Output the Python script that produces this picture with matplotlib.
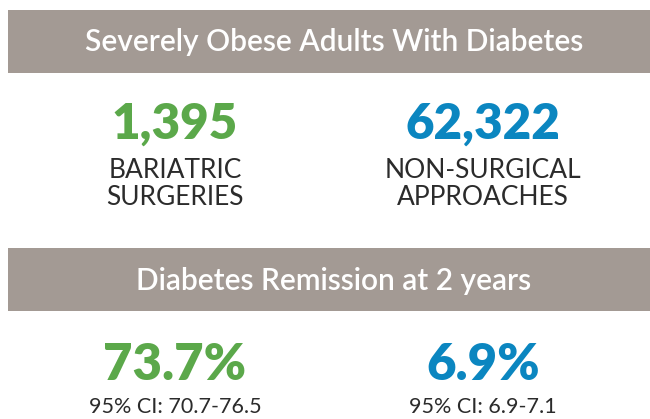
import matplotlib
matplotlib.use("Agg")
import matplotlib.pyplot as plt
from matplotlib.patches import Rectangle

# ---- data ----
section_titles = ["Severely Obese Adults With Diabetes", "Diabetes Remission at 2 years"]
group_counts = ["1,395", "62,322"]
group_labels = [["BARIATRIC", "SURGERIES"], ["NON-SURGICAL", "APPROACHES"]]
remission_rates = ["73.7%", "6.9%"]
remission_ci = ["95% CI: 70.7-76.5", "95% CI: 6.9-7.1"]
group_colors = ["#5ba84a", "#0b86c0"]

BAR = "#a39a94"
TEXT = "#2b2b2b"
FONT = ["Lato", "DejaVu Sans"]

W, H = 650, 419
fig = plt.figure(figsize=(W / 100, H / 100), dpi=100)
ax = fig.add_axes([0, 0, 1, 1])
ax.set_xlim(0, W)
ax.set_ylim(H, 0)
ax.axis("off")

# header bars (top, bottom)
bars = [(10, 73), (248, 311)]
title_baselines = [51, 290]
for (t, b), title, yb in zip(bars, section_titles, title_baselines):
    ax.add_patch(Rectangle((8, t), W - 8, b - t, facecolor=BAR, edgecolor="none"))
    ax.text(334, yb, title, ha="center", va="baseline", color="white",
            fontsize=21.5, family=FONT, fontweight="semibold")

cols = [175, 483]
for i, cx in enumerate(cols):
    ax.text(cx, 139, group_counts[i], ha="center", va="baseline",
            color=group_colors[i], fontsize=35.5, family=FONT, fontweight="heavy")
    ax.text(cx, 178, group_labels[i][0], ha="center", va="baseline",
            color=TEXT, fontsize=19, family=FONT, fontweight="normal")
    ax.text(cx, 205, group_labels[i][1], ha="center", va="baseline",
            color=TEXT, fontsize=19, family=FONT, fontweight="normal")
    ax.text(cx, 380, remission_rates[i], ha="center", va="baseline",
            color=group_colors[i], fontsize=36.5, family=FONT, fontweight="heavy")
    ax.text(cx, 413, remission_ci[i], ha="center", va="baseline",
            color=TEXT, fontsize=15.5, family=FONT, fontweight="normal")

fig.savefig("out.png", dpi=100, facecolor="white")
